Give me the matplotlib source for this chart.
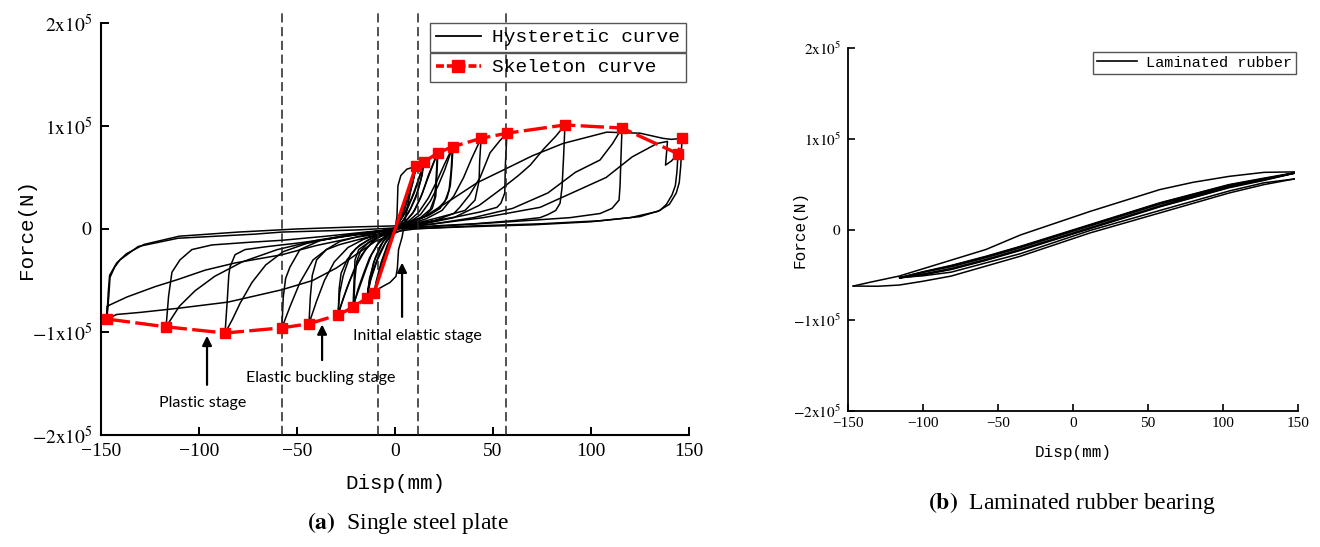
import numpy as np
import matplotlib
matplotlib.use('Agg')
import matplotlib.pyplot as plt
from matplotlib.lines import Line2D

plt.rcParams['font.family'] = 'Liberation Serif'
plt.rcParams['mathtext.fontset'] = 'stix'

# ---- (a) single steel plate: disp in mm, force in 1e5 N ----
skel_disp = [-147.0, -116.8, -86.7, -57.7, -43.9, -29.1, -21.4, -14.3, -10.7,
             10.7, 14.8, 21.9, 29.6, 43.9, 57.1, 86.7, 115.8, 144.4, 146.4]
skel_force = [-0.874, -0.95, -1.01, -0.96, -0.92, -0.835, -0.76, -0.67, -0.62,
              0.61, 0.65, 0.74, 0.80, 0.88, 0.93, 1.01, 0.98, 0.73, 0.88]

# stage boundaries (dashed verticals)
stage_bounds = [-57.7, -8.7, 11.7, 56.6]

# hysteresis cycles, one pair of lists per cycle
c10a_d = [0, 1.0, 1.5, 3.0, 6.0, 10.7, 9.5, 7.5, 5.0, 2.0, -1.0, -4.0, -7.0, -9.5, -10.7,
          -9.2, -5.5, -2.6, 0.5, 1.2, 1.8, 3.6, 6.0, 8.5, 10.7]
c10a_f = [0, 0.12, 0.42, 0.52, 0.58, 0.61, 0.50, 0.36, 0.22, 0.08, -0.05, -0.18, -0.36, -0.52, -0.62,
          -0.59, -0.55, -0.52, -0.46, -0.38, -0.20, -0.08, 0.18, 0.42, 0.60]
c10b_d = [10.7, 9.0, 6.5, 4.0, 1.0, -2.0, -5.0, -8.0, -10.2, -10.7, -9.5, -7.0, -4.0, -1.0,
          2.0, 5.0, 8.0, 10.2]
c10b_f = [0.60, 0.44, 0.28, 0.14, 0.02, -0.10, -0.26, -0.45, -0.60, -0.62, -0.50, -0.32, -0.16, -0.04,
          0.10, 0.27, 0.46, 0.60]
c15a_d = [14.8, 13.8, 11.5, 8.0, 4.0, 0.0, -4.0, -8.0, -11.5, -13.6, -14.3, -13.2, -11.0, -7.5,
          -3.5, 0.5, 4.5, 8.5, 12.0, 14.0, 14.8]
c15a_f = [0.65, 0.52, 0.36, 0.20, 0.08, -0.01, -0.10, -0.24, -0.42, -0.58, -0.67, -0.52, -0.33, -0.16,
          -0.06, 0.03, 0.14, 0.30, 0.48, 0.60, 0.65]
c15b_d = [14.6, 13.2, 10.5, 7.0, 3.0, -1.0, -5.0, -9.0, -12.5, -14.2, -13.0, -10.0, -6.0, -2.0,
          2.0, 6.0, 10.0, 13.0, 14.6]
c15b_f = [0.64, 0.48, 0.30, 0.16, 0.05, -0.04, -0.14, -0.30, -0.50, -0.66, -0.48, -0.28, -0.12, -0.03,
          0.06, 0.18, 0.36, 0.54, 0.64]
c22a_d = [21.9, 21.4, 20.8, 19.0, 15.0, 9.0, 3.0, -3.0, -8.0, -12.0, -15.0, -18.0, -20.2, -21.4,
          -21.0, -20.4, -18.5, -15.3, -10.0, -5.1, 0.0, 5.0, 10.0, 14.0, 17.0, 20.0, 21.9]
c22a_f = [0.74, 0.55, 0.32, 0.20, 0.12, 0.06, 0.02, -0.04, -0.12, -0.25, -0.40, -0.56, -0.68, -0.76,
          -0.55, -0.30, -0.20, -0.155, -0.09, -0.06, -0.02, 0.06, 0.18, 0.35, 0.52, 0.66, 0.74]
c22b_d = [21.6, 21.0, 20.2, 18.0, 13.0, 7.0, 1.0, -4.0, -9.0, -13.0, -16.0, -18.8, -21.0,
          -20.5, -19.6, -17.5, -13.5, -8.0, -2.0, 4.0, 9.0, 13.0, 16.5, 19.5, 21.6]
c22b_f = [0.73, 0.50, 0.30, 0.19, 0.11, 0.05, 0.0, -0.06, -0.15, -0.28, -0.43, -0.58, -0.73,
          -0.50, -0.32, -0.21, -0.13, -0.07, -0.02, 0.05, 0.15, 0.30, 0.48, 0.63, 0.73]
c30a_d = [29.6, 29.0, 28.2, 26.5, 23.0, 17.0, 10.0, 3.0, -4.0, -10.0, -15.0, -19.0, -23.0, -26.5, -29.1,
          -28.2, -26.5, -25.5, -22.5, -17.9, -11.0, -5.1, 0.0, 6.0, 12.0, 17.0, 21.0, 25.0, 28.0, 29.6]
c30a_f = [0.80, 0.60, 0.42, 0.30, 0.20, 0.13, 0.08, 0.03, -0.03, -0.10, -0.20, -0.33, -0.50, -0.68, -0.835,
          -0.62, -0.46, -0.40, -0.24, -0.155, -0.08, -0.04, 0.0, 0.06, 0.16, 0.30, 0.45, 0.62, 0.74, 0.80]
c30b_d = [29.3, 28.6, 27.6, 25.5, 21.0, 15.0, 8.0, 1.0, -6.0, -12.0, -17.0, -21.0, -24.5, -27.5, -29.0,
          -28.5, -27.5, -24.5, -20.0, -14.0, -7.0, 0.0, 7.0, 13.0, 18.0, 22.0, 25.5, 28.0, 29.3]
c30b_f = [0.79, 0.56, 0.38, 0.27, 0.18, 0.12, 0.06, 0.01, -0.05, -0.13, -0.25, -0.40, -0.57, -0.74, -0.83,
          -0.58, -0.43, -0.30, -0.19, -0.11, -0.05, 0.0, 0.06, 0.14, 0.27, 0.42, 0.58, 0.72, 0.79]
c44_d = [43.9, 43.2, 42.9, 40.8, 35.7, 28.0, 18.0, 8.0, 0.0, -8.0, -16.0, -24.0, -31.0, -36.0, -40.0, -43.9,
         -43.2, -42.2, -40.0, -35.0, -28.0, -18.0, -8.0, 0.0, 8.0, 16.0, 24.0, 30.0, 35.0, 39.0, 43.9]
c44_f = [0.88, 0.66, 0.47, 0.28, 0.18, 0.14, 0.09, 0.04, 0.0, -0.05, -0.10, -0.18, -0.32, -0.50, -0.70, -0.92,
         -0.66, -0.45, -0.30, -0.20, -0.15, -0.10, -0.05, 0.0, 0.05, 0.10, 0.18, 0.32, 0.50, 0.68, 0.88]
c57_d = [57.1, 56.3, 56.0, 54.0, 52.0, 43.4, 32.0, 20.0, 8.0, 0.0, -10.0, -20.0, -28.0, -35.0, -41.8,
         -48.5, -53.5, -57.7, -57.0, -55.8, -53.6, -48.5, -38.0, -25.0, -12.0, 0.0, 10.0, 20.0, 30.0,
         33.0, 38.0, 43.4, 48.5, 53.6, 57.1]
c57_f = [0.93, 0.62, 0.35, 0.25, 0.21, 0.165, 0.12, 0.08, 0.04, 0.01, -0.04, -0.08, -0.12, -0.20, -0.30,
         -0.52, -0.75, -0.96, -0.66, -0.48, -0.37, -0.20, -0.11, -0.07, -0.04, 0.0, 0.04, 0.08, 0.15,
         0.21, 0.33, 0.50, 0.74, 0.86, 0.93]
c87_d = [86.7, 86.0, 85.2, 84.2, 82.0, 78.0, 74.0, 60.0, 40.0, 20.0, 0.0, -15.0, -30.0, -45.0, -57.0,
         -66.0, -73.0, -79.0, -83.0, -86.7, -85.6, -84.8, -84.2, -81.6, -76.5, -64.8, -51.0, -35.0,
         -18.0, 0.0, 15.0, 30.0, 43.0, 55.0, 63.0, 69.0, 76.0, 82.0, 86.7]
c87_f = [1.01, 0.70, 0.40, 0.25, 0.18, 0.14, 0.11, 0.08, 0.05, 0.03, 0.0, -0.04, -0.08, -0.14, -0.22,
         -0.35, -0.52, -0.72, -0.88, -1.01, -0.70, -0.45, -0.37, -0.25, -0.20, -0.17, -0.14, -0.10,
         -0.05, 0.0, 0.05, 0.11, 0.23, 0.40, 0.52, 0.62, 0.78, 0.90, 1.01]
c116_d = [115.8, 115.2, 114.8, 114.3, 110.7, 104.6, 89.3, 74.0, 50.0, 25.0, 0.0, -20.0, -40.0, -60.0,
          -78.0, -92.0, -102.0, -110.0, -116.8, -115.5, -113.8, -109.7, -103.6, -93.4, -75.0, -57.7,
          -35.0, -15.0, 0.0, 20.0, 40.0, 60.0, 78.0, 92.0, 104.6, 111.0, 115.8]
c116_f = [0.98, 0.65, 0.42, 0.28, 0.20, 0.15, 0.11, 0.09, 0.06, 0.03, 0.0, -0.05, -0.11, -0.20,
          -0.32, -0.46, -0.60, -0.75, -0.95, -0.65, -0.42, -0.30, -0.20, -0.155, -0.13, -0.11,
          -0.07, -0.03, 0.0, 0.05, 0.11, 0.20, 0.35, 0.55, 0.67, 0.83, 0.98]
c145a_d = [144.4, 143.8, 143.0, 141.3, 138.5, 135.2, 125.0, 104.6, 74.0, 40.0, 10.0, -20.0, -40.0,
           -57.7, -81.6, -96.9, -110.7, -122.4, -136.7, -146.9, -147.0, -146.0, -145.4, -143.0,
           -140.3, -131.0, -110.7, -71.4, -57.7, -20.0, 0.0, 20.0, 45.0, 74.0, 90.3, 107.7, 121.0,
           133.7, 139.0, 138.0, 141.0, 144.4]
c145a_f = [0.73, 0.55, 0.42, 0.33, 0.24, 0.18, 0.12, 0.08, 0.05, 0.03, 0.0, -0.08, -0.16,
           -0.25, -0.33, -0.40, -0.49, -0.56, -0.66, -0.75, -0.874, -0.65, -0.47, -0.37,
           -0.30, -0.17, -0.09, -0.05, -0.03, -0.01, 0.01, 0.05, 0.11, 0.21, 0.35, 0.50, 0.70,
           0.83, 0.85, 0.62, 0.66, 0.73]
c145b_d = [146.4, 145.8, 145.0, 143.5, 140.0, 134.0, 120.0, 100.0, 70.0, 35.0, 5.0, -10.0, -20.0,
           -30.0, -42.0, -57.7, -85.2, -110.7, -130.0, -142.0, -147.0, -146.3, -145.6, -142.0,
           -137.0, -128.0, -110.0, -80.0, -50.0, -20.0, 0.0, 15.0, 30.0, 42.0, 55.0, 70.0, 85.7,
           108.0, 125.0, 136.7, 141.0, 146.4]
c145b_f = [0.88, 0.62, 0.45, 0.35, 0.24, 0.17, 0.11, 0.07, 0.04, 0.02, 0.0, -0.12, -0.25,
           -0.38, -0.50, -0.59, -0.71, -0.77, -0.81, -0.83, -0.874, -0.62, -0.45, -0.33,
           -0.24, -0.15, -0.07, -0.03, 0.0, 0.02, 0.03, 0.12, 0.30, 0.45, 0.57, 0.71, 0.83,
           0.94, 0.93, 0.88, 0.87, 0.88]

plate_cycles = [(c10a_d, c10a_f), (c10b_d, c10b_f), (c15a_d, c15a_f), (c15b_d, c15b_f),
                (c22a_d, c22a_f), (c22b_d, c22b_f), (c30a_d, c30a_f), (c30b_d, c30b_f),
                (c44_d, c44_f), (c57_d, c57_f), (c87_d, c87_f), (c116_d, c116_f),
                (c145a_d, c145a_f), (c145b_d, c145b_f)]

# ---- (b) laminated rubber bearing ----
rub_top_d = [147.5, 127.4, 104.2, 80.0, 57.9, 11.5, -35.0, -58.0, -115.9, -135.0, -146.5]
rub_top_f = [0.635, 0.63, 0.586, 0.52, 0.44, 0.20, -0.06, -0.22, -0.513, -0.58, -0.623]
rub_bot_d = [-146.5, -130.0, -115.9, -100.0, -81.2, -34.8, 11.5, 57.9, 104.2, 127.4, 147.5]
rub_bot_f = [-0.623, -0.625, -0.612, -0.57, -0.513, -0.293, -0.037, 0.183, 0.403, 0.495, 0.557]
rub_second_d = [147.5, 127.4, 104.2, 57.9, 11.5, -34.8, -81.2, -100.0, -115.5]
rub_second_f = [0.557, 0.515, 0.425, 0.21, -0.01, -0.265, -0.47, -0.51, -0.53]
rub_in_d = [-115.5, -100.0, -81.0, -58.0, -35.0, 11.5, 58.0, 104.0, 127.0, 147.5,
            127.0, 104.0, 58.0, 11.5, -35.0, -58.0, -81.0, -100.0, -115.5]
rub_in1_f = [-0.535, -0.47, -0.40, -0.30, -0.19, 0.05, 0.29, 0.49, 0.56, 0.62,
             0.54, 0.46, 0.25, 0.01, -0.23, -0.34, -0.44, -0.50, -0.535]
rub_in2_f = [-0.53, -0.47, -0.41, -0.31, -0.20, 0.04, 0.28, 0.48, 0.555, 0.62,
             0.545, 0.47, 0.26, 0.02, -0.22, -0.33, -0.43, -0.49, -0.53]
rub_in3_f = [-0.53, -0.465, -0.395, -0.295, -0.185, 0.055, 0.295, 0.495, 0.565, 0.625,
             0.55, 0.465, 0.255, 0.015, -0.225, -0.335, -0.435, -0.495, -0.53]

rubber_curves = [(rub_top_d, rub_top_f), (rub_bot_d, rub_bot_f), (rub_second_d, rub_second_f),
                 (rub_in_d, rub_in1_f), (rub_in_d, rub_in2_f), (rub_in_d, rub_in3_f)]

force_ticks = [-2e5, -1e5, 0, 1e5, 2e5]
force_labels = [r'$-2\mathrm{x}10^{5}$', r'$-1\mathrm{x}10^{5}$', r'$0$',
                r'$1\mathrm{x}10^{5}$', r'$2\mathrm{x}10^{5}$']
disp_ticks = [-150, -100, -50, 0, 50, 100, 150]

mono = 'Liberation Mono'

fig = plt.figure(figsize=(13.2, 5.47), dpi=100)
ax1 = fig.add_axes([0.0765, 0.2048, 0.4455, 0.7532])
ax2 = fig.add_axes([0.6424, 0.2486, 0.3409, 0.6636])

# hysteretic curves
for d, f in plate_cycles:
    ax1.plot(d, np.array(f) * 1e5, color='black', lw=1.1, zorder=2)

# skeleton curve: dashed on the outer branches, solid through the elastic part
sd = np.array(skel_disp)
sf = np.array(skel_force) * 1e5
ax1.plot(sd[:9], sf[:9], color='red', lw=2.4, ls=(0, (7, 1.6)), zorder=4)
ax1.plot(sd[8:10], sf[8:10], color='red', lw=2.4, zorder=4)
ax1.plot(sd[9:], sf[9:], color='red', lw=2.4, ls=(0, (7, 1.6)), zorder=4)
ax1.plot(sd, sf, ls='none', marker='s', ms=7.5, color='red', zorder=5)

for x in stage_bounds:
    ax1.plot([x, x], [-2e5, 2.13e5], color='#222222', lw=1.1, ls=(0, (6, 3)),
             clip_on=False, zorder=3)

# stage annotations
arrow = dict(arrowstyle='-|>', color='black', lw=1.6, mutation_scale=14)
ann_font = dict(family='Lato', fontsize=11.5, ha='center', va='center')
ax1.annotate('', xy=(3.6, -0.30e5), xytext=(3.6, -0.88e5), arrowprops=arrow)
ax1.text(11.2, -1.04e5, 'Initial elastic stage', **ann_font)
ax1.annotate('', xy=(-37.2, -0.90e5), xytext=(-37.2, -1.30e5), arrowprops=arrow)
ax1.text(-37.8, -1.45e5, 'Elastic buckling stage', **ann_font)
ax1.annotate('', xy=(-95.9, -1.01e5), xytext=(-95.9, -1.54e5), arrowprops=arrow)
ax1.text(-98, -1.69e5, 'Plastic stage', **ann_font)

leg_kw = dict(loc='upper right', prop={'family': mono, 'size': 14}, frameon=True,
              fancybox=False, edgecolor='#555555', facecolor='none', framealpha=1,
              borderpad=0.3, handlelength=2.3, handletextpad=0.6, borderaxespad=0)
h1 = Line2D([], [], color='black', lw=1.3)
leg1 = ax1.legend([h1], ['Hysteretic curve'], bbox_to_anchor=(0.995, 1.0), **leg_kw)
leg1.get_frame().set_linewidth(1.0)
ax1.add_artist(leg1)
h2 = Line2D([], [], color='red', lw=2.6, ls=(0, (2.2, 0.8)), marker='s', ms=8)
leg2 = ax1.legend([h2], ['Skeleton curve  '], bbox_to_anchor=(0.995, 0.927), **leg_kw)
leg2.get_frame().set_linewidth(1.0)

ax1.set_xlim(-150, 150)
ax1.set_ylim(-2e5, 2e5)
ax1.set_xticks(disp_ticks)
ax1.set_yticks(force_ticks)
ax1.set_yticklabels(force_labels)
ax1.tick_params(direction='in', length=6, width=1.4, labelsize=14, pad=6)
ax1.set_xlabel('Disp(mm)', family=mono, fontsize=15)
ax1.set_ylabel('Force(N)', family=mono, fontsize=15)
ax1.xaxis.set_label_coords(0.5, -0.095)
ax1.yaxis.set_label_coords(-0.11, 0.5)
for s in ['top', 'right']:
    ax1.spines[s].set_visible(False)
for s in ['left', 'bottom']:
    ax1.spines[s].set_linewidth(1.5)

# rubber bearing
for d, f in rubber_curves:
    ax2.plot(d, np.array(f) * 1e5, color='black', lw=1.1)
h3 = Line2D([], [], color='black', lw=1.2)
leg3 = ax2.legend([h3], ['Laminated rubber'], loc='upper right', bbox_to_anchor=(0.9956, 0.989),
                  prop={'family': mono, 'size': 11}, frameon=True, fancybox=False,
                  edgecolor='#555555', facecolor='none', framealpha=1, borderpad=0.25,
                  handlelength=2.6, handletextpad=0.6, borderaxespad=0)
leg3.get_frame().set_linewidth(1.0)

ax2.set_xlim(-150, 150)
ax2.set_ylim(-2e5, 2e5)
ax2.set_xticks(disp_ticks)
ax2.set_yticks(force_ticks)
ax2.set_yticklabels(force_labels)
ax2.tick_params(axis='x', direction='in', length=5, width=1.2, labelsize=11, pad=4)
ax2.tick_params(axis='y', direction='in', length=5, width=1.2, labelsize=11, pad=5)
ax2.set_xlabel('Disp(mm)', family=mono, fontsize=11.5)
ax2.set_ylabel('Force(N)', family=mono, fontsize=11.5)
ax2.xaxis.set_label_coords(0.5, -0.095)
ax2.yaxis.set_label_coords(-0.09, 0.5)
for s in ['top', 'right']:
    ax2.spines[s].set_visible(False)
for s in ['left', 'bottom']:
    ax2.spines[s].set_linewidth(1.3)

fig.text(0.309, 0.044, r'$\mathbf{(a)}$  Single steel plate', ha='center', va='center', fontsize=17)
fig.text(0.812, 0.080, r'$\mathbf{(b)}$  Laminated rubber bearing', ha='center', va='center', fontsize=17)

fig.savefig('out.png', dpi=100)
